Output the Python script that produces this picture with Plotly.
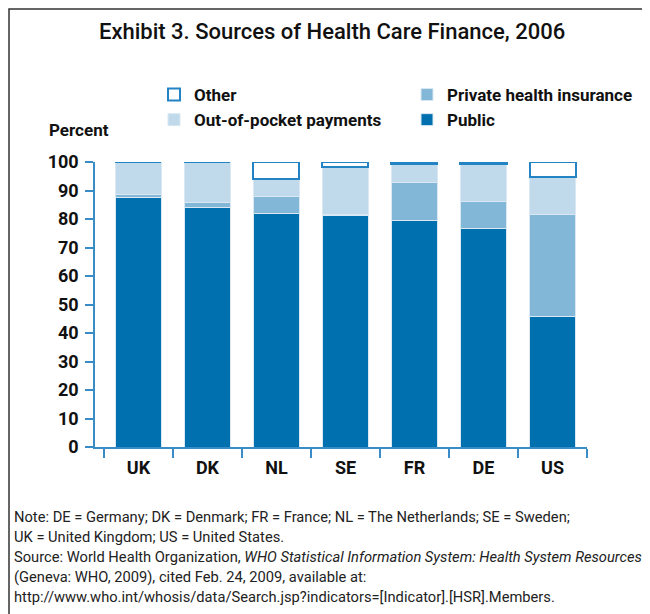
import plotly.graph_objects as go

countries = ["UK", "DK", "NL", "SE", "FR", "DE", "US"]
public = [87.5, 84.1, 81.8, 81.3, 79.6, 76.6, 45.7]
private_ins = [1.0, 1.6, 6.0, 0.2, 13.1, 9.5, 36.0]
out_of_pocket = [11.5, 14.3, 6.2, 16.9, 6.6, 13.3, 13.1]
other = [0.0, 0.0, 6.0, 1.6, 0.7, 0.6, 5.2]

y_ticks = list(range(0, 101, 10))

title_text = "Exhibit 3. Sources of Health Care Finance, 2006"
note_lines = [
    "Note: DE = Germany; DK = Denmark; FR = France; NL = The Netherlands; SE = Sweden;",
    "UK = United Kingdom; US = United States.",
    "Source: World Health Organization, <i>WHO Statistical Information System: Health System Resources</i>",
    "(Geneva: WHO, 2009), cited Feb. 24, 2009, available at:",
    "http://www.who.int/whosis/data/Search.jsp?indicators=[Indicator].[HSR].Members.",
]

# page has an 8px body margin; work in page coordinates and convert
OFF = 8
W, H = 650 - OFF, 614 - OFF
L, R, T, B = 95 - OFF, 587 - OFF, 162 - OFF, 447 - OFF
FONT = "Roboto, Liberation Sans, sans-serif"

def px(x):
    return (x - OFF - L) / (R - L)

def py(y):
    return (B - (y - OFF)) / (B - T)

C_PUB = "#0070AE"
C_PRIV = "#82B7D7"
C_OOP = "#C0DAEB"
C_OTH = "#2383C3"
EDGE = "#D9E8F3"

fig = go.Figure()
fig.add_bar(x=countries, y=public, name="Public", legend="legend2", legendrank=2,
            marker=dict(color=C_PUB, line=dict(color=EDGE, width=1)))
fig.add_bar(x=countries, y=private_ins, name="Private health insurance", legend="legend2", legendrank=1,
            marker=dict(color=C_PRIV, line=dict(color=EDGE, width=1)))
fig.add_bar(x=countries, y=out_of_pocket, name="Out-of-pocket payments", legend="legend", legendrank=2,
            marker=dict(color=C_OOP, line=dict(color=EDGE, width=1)))
fig.add_bar(x=countries, y=other, name="Other", legend="legend", legendrank=1,
            marker=dict(color="white", line=dict(color=C_OTH, width=2)))

leg_common = dict(
    orientation="v", xanchor="left", yanchor="top", traceorder="normal",
    font=dict(family=FONT, size=17, color="#111111", weight="bold"),
    bgcolor="rgba(0,0,0,0)", borderwidth=0, itemclick=False, itemdoubleclick=False,
    tracegroupgap=0,
)

fig.update_layout(
    width=W, height=H,
    margin=dict(l=L, r=W - R, t=T, b=H - B, pad=0, autoexpand=False),
    barmode="stack",
    bargap=1 - 46 / 69,
    plot_bgcolor="white", paper_bgcolor="white",
    font=dict(family=FONT, color="#111111"),
    showlegend=True,
    legend=dict(x=px(154), y=py(77), **leg_common),
    legend2=dict(x=px(407), y=py(77), **leg_common),
)
fig.update_xaxes(
    range=[-0.63, 6.5],
    showline=True, linecolor="#3A8CC6", linewidth=1.5,
    ticks="outside", tickson="boundaries", ticklen=9, tickcolor="#3A8CC6", tickwidth=1.5,
    tickfont=dict(family=FONT, size=18, color="#111111", weight="bold"),
    ticklabelstandoff=4,
    showgrid=False, zeroline=False,
)
fig.update_yaxes(
    range=[0, 100],
    tickvals=y_ticks,
    showline=True, linecolor="#3A8CC6", linewidth=1.5,
    ticks="outside", ticklen=8, tickcolor="#3A8CC6", tickwidth=1.5,
    tickfont=dict(family=FONT, size=18, color="#111111", weight="bold"),
    ticklabelstandoff=3,
    showgrid=False, zeroline=False,
)

ann = [
    dict(text=title_text, x=px(332), y=py(32), xanchor="center", yanchor="middle",
         font=dict(family=FONT, size=22, color="#111111", weight=500)),
    dict(text="<b>Percent</b>", x=px(47), y=py(130), xanchor="left", yanchor="middle",
         font=dict(family=FONT, size=17, color="#111111")),
]
for i, line in enumerate(note_lines):
    ann.append(dict(text=line, x=px(12), y=py(517 + 20 * i), xanchor="left", yanchor="middle",
                    font=dict(family=FONT, size=14.7, color="#222222")))
for a in ann:
    a.update(xref="paper", yref="paper", showarrow=False)
fig.update_layout(annotations=ann)

# outer frame (top and left edges), drawn at the figure's own edge
fig.add_shape(type="path", xref="paper", yref="paper",
              path=f"M {px(OFF + 1)} {py(620)} L {px(OFF + 1)} {py(OFF + 1)} L {px(660)} {py(OFF + 1)}",
              line=dict(color="#333333", width=1.5))

fig.write_html("out.html")
